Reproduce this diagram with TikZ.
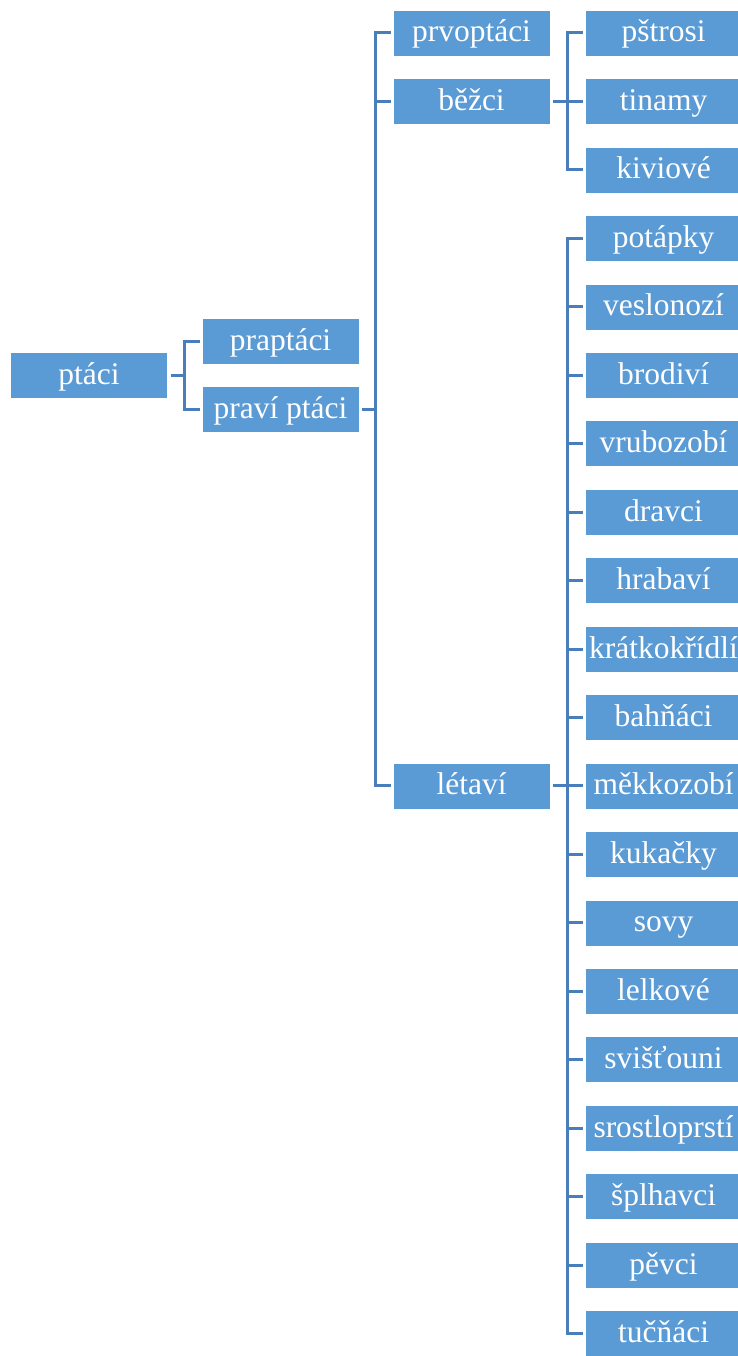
\documentclass[tikz,border=0pt]{standalone}
\usepackage{fontspec}
\setmainfont{Liberation Serif}
\definecolor{boxblue}{HTML}{5B9BD5}
\definecolor{linkblue}{HTML}{4A7EBB}
\begin{document}
\begin{tikzpicture}[x=1pt,y=-1pt,
  taxon/.style={rectangle, fill=boxblue, draw=white, line width=0.6pt,
    minimum width=157pt, minimum height=46pt, inner sep=0pt, text=white,
    text height=23pt, text depth=5pt,
    font=\fontsize{31.5}{37}\selectfont},
  link/.style={draw=linkblue, line width=3pt}]
\useasboundingbox (0,0) rectangle (738,1356);
% row pitch 68.45, first row centred at 33
\def\ry#1{33+68.45*#1}
% level 1
\node[taxon] (ptaci) at (89,375.3) {ptáci};
% level 2
\node[taxon] (praptaci) at (280.5,341.05) {praptáci};
\node[taxon] (pravi) at (280.5,409.5) {praví ptáci};
% level 3
\node[taxon] (prvoptaci) at (471.5,{\ry{0}}) {prvoptáci};
\node[taxon] (bezci) at (471.5,{\ry{1}}) {běžci};
\node[taxon] (letavi) at (471.5,{\ry{11}}) {létaví};
% level 4: běžci
\node[taxon] (pstrosi) at (663.5,{\ry{0}}) {pštrosi};
\node[taxon] (tinamy) at (663.5,{\ry{1}}) {tinamy};
\node[taxon] (kiviove) at (663.5,{\ry{2}}) {kiviové};
% level 4: létaví
\foreach \n/\t [count=\i from 3] in {
  potapky/potápky, veslonozi/veslonozí, brodivi/brodiví, vrubozobi/vrubozobí,
  dravci/dravci, hrabavi/hrabaví, kratkokridli/krátkokřídlí, bahnaci/bahňáci,
  mekkozobi/měkkozobí, kukacky/kukačky, sovy/sovy, lelkove/lelkové,
  svistouni/svišťouni, srostloprsti/srostloprstí, splhavci/šplhavci,
  pevci/pěvci, tucnaci/tučňáci}
  \node[taxon] (\n) at (663.5,{\ry{\i}}) {\t};
% connectors
\foreach \c in {praptaci,pravi}
  \draw[link] ([xshift=3pt]ptaci.east) -| ([xshift=-17pt]\c.west) -- ([xshift=-2pt]\c.west);
\foreach \c in {prvoptaci,bezci,letavi}
  \draw[link] ([xshift=3pt]pravi.east) -| ([xshift=-17pt]\c.west) -- ([xshift=-2pt]\c.west);
\foreach \c in {pstrosi,tinamy,kiviove}
  \draw[link] ([xshift=3pt]bezci.east) -| ([xshift=-17pt]\c.west) -- ([xshift=-2pt]\c.west);
\foreach \c in {potapky,veslonozi,brodivi,vrubozobi,dravci,hrabavi,kratkokridli,
  bahnaci,mekkozobi,kukacky,sovy,lelkove,svistouni,srostloprsti,splhavci,pevci,tucnaci}
  \draw[link] ([xshift=3pt]letavi.east) -| ([xshift=-17pt]\c.west) -- ([xshift=-2pt]\c.west);
\end{tikzpicture}
\end{document}
